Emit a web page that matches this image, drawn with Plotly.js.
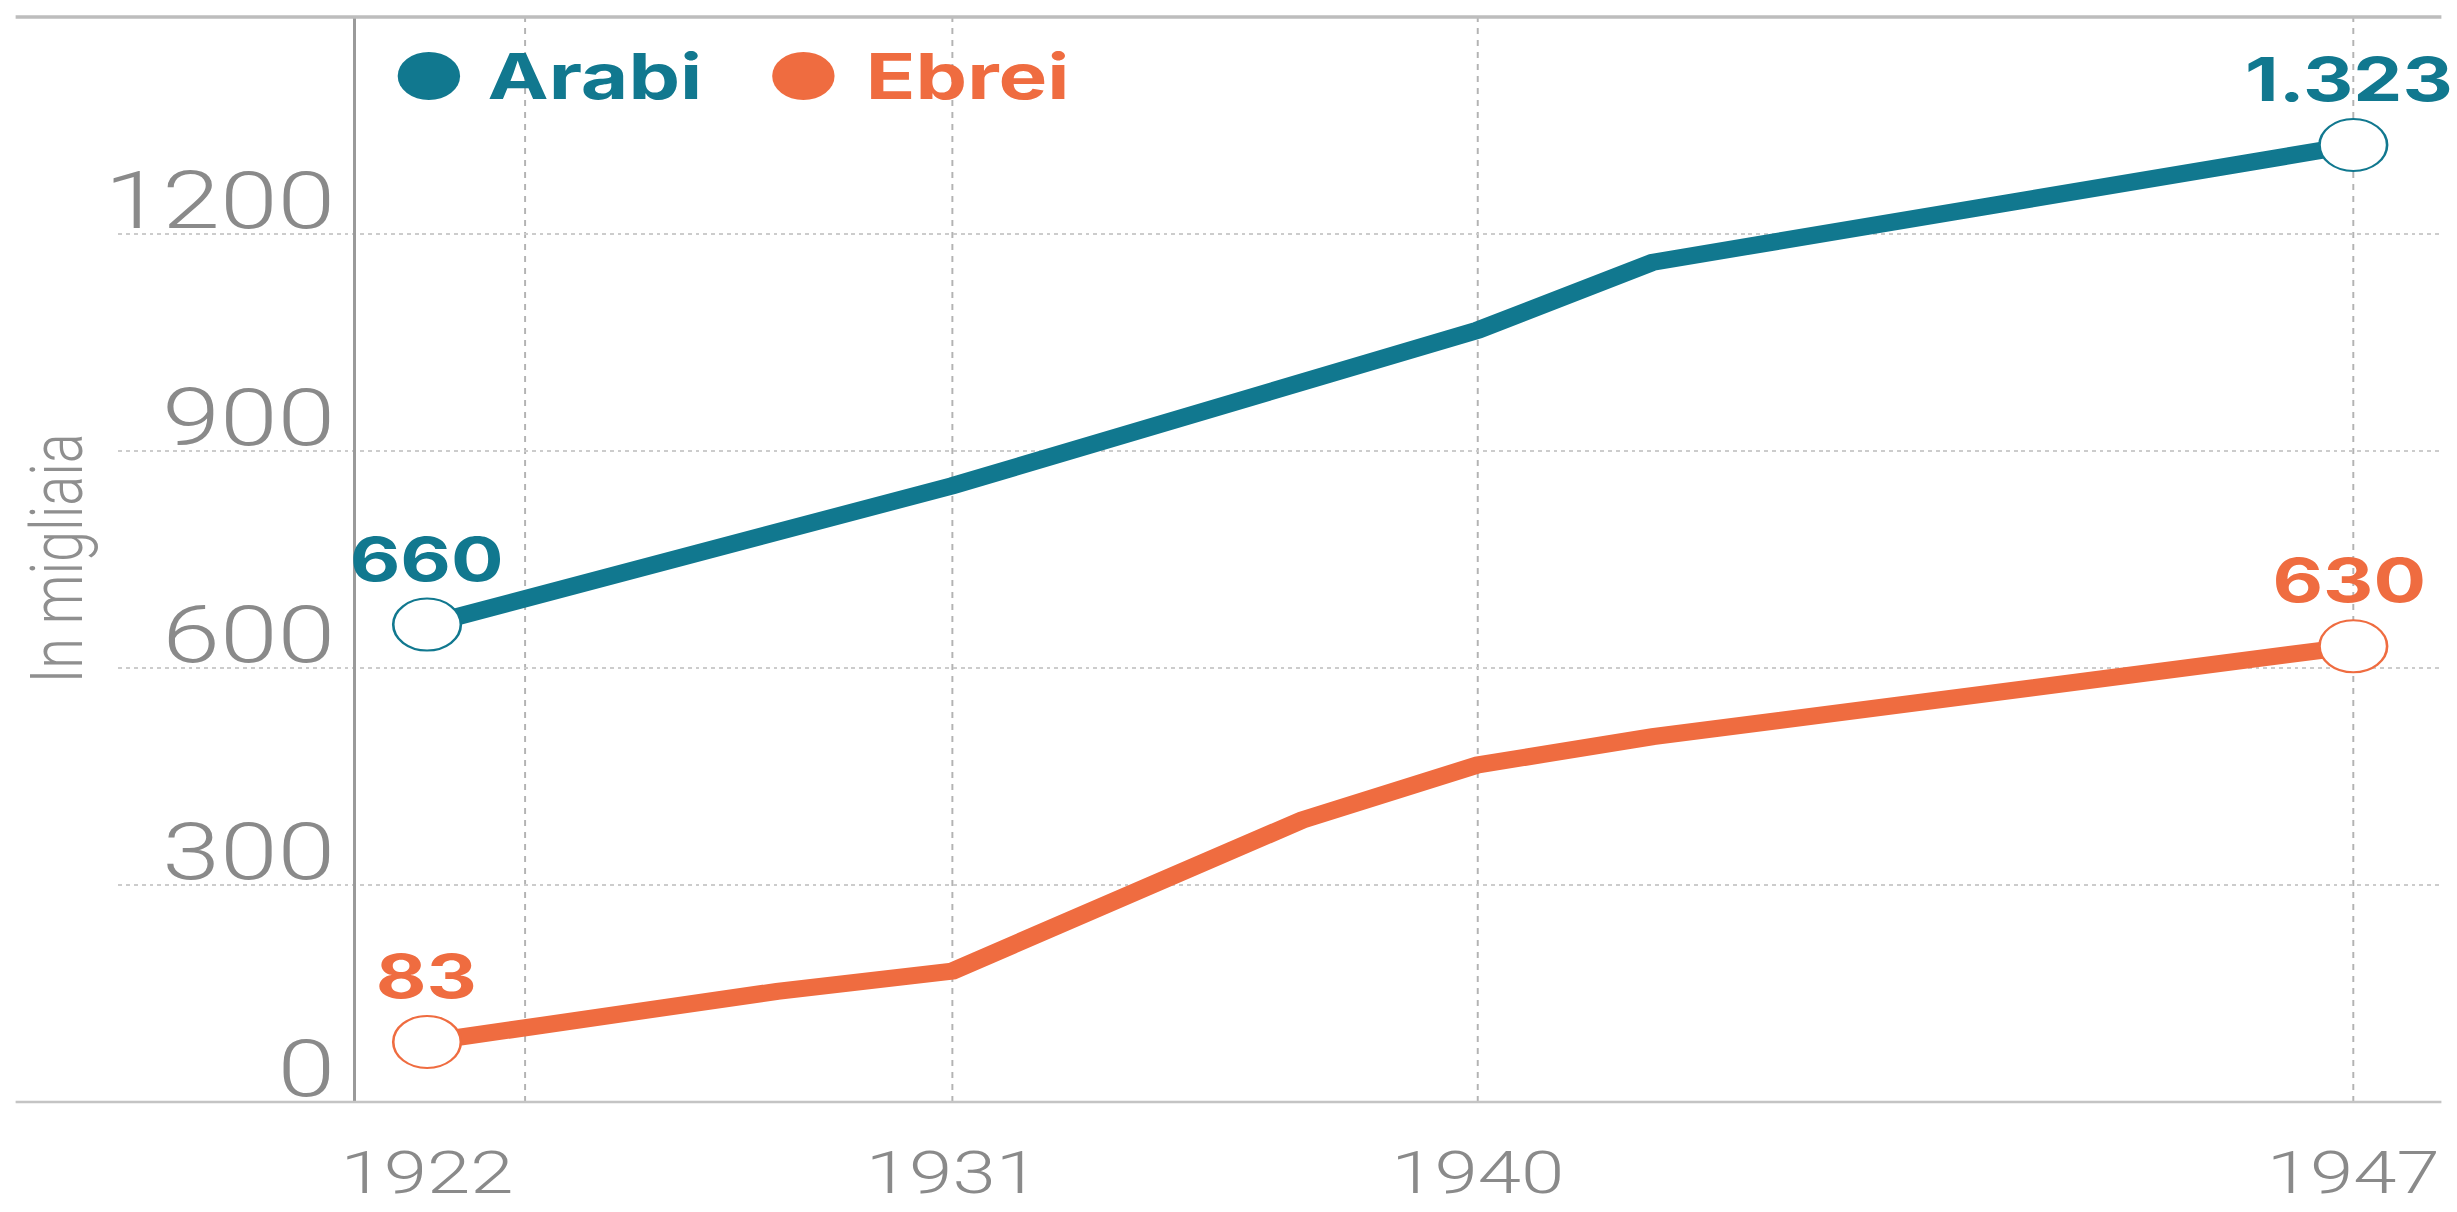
<!DOCTYPE html>
<html>
<head>
<meta charset="utf-8">
<script src="https://cdn.plot.ly/plotly-3.0.1.min.js"></script>
<style>
html,body{margin:0;padding:0;overflow:hidden;background:#fff;}
#chart{width:1890px;height:1212px;transform:scaleX(1.3);transform-origin:0 0;}
</style>
</head>
<body>
<div id="chart"></div>
<script>
// Category slots of the x axis (the original chart spaces them evenly)
const years = ['1922','1925','1928','1931','1934','1937','1940','1941','1943','1944','1946','1947'];
const tickYears = ['1922','1931','1940','1947'];

// Arabi (thousands)
const arabiX = ['1922','1928','1931','1940','1941','1947'];
const arabiY = [660, 787, 852, 1067, 1161, 1323];

// Ebrei (thousands)
const ebreiX = ['1922','1925','1928','1931','1937','1940','1941','1947'];
const ebreiY = [83, 120, 153, 181, 390, 466, 505, 630];

const yTicks = [0, 300, 600, 900, 1200];

const TEAL = '#11788f';
const ORANGE = '#ef6c40';

// numeric-looking category names must be addressed by their slot index
const idx = y => years.indexOf(y);

function fmt(v){
  return v >= 1000 ? Math.floor(v/1000) + '.' + String(v % 1000).padStart(3,'0') : String(v);
}
function ends(a){ return [a[0], a[a.length-1]]; }

const series = [
  {name:'Arabi', x:arabiX, y:arabiY, color:TEAL},
  {name:'Ebrei', x:ebreiX, y:ebreiY, color:ORANGE}
];

const traces = [];
series.forEach(s => {
  traces.push({
    type:'scatter', mode:'lines', x:s.x, y:s.y, name:s.name,
    line:{color:s.color, width:17}, hoverinfo:'skip', cliponaxis:false
  });
});
series.forEach(s => {
  traces.push({
    type:'scatter', mode:'markers', x:ends(s.x), y:ends(s.y), name:s.name,
    marker:{symbol:'circle', size:52, color:'#ffffff', line:{color:s.color, width:2}},
    hoverinfo:'skip', cliponaxis:false
  });
});

const annotations = [];
series.forEach(s => {
  ends(s.x).forEach((xv, i) => {
    const yv = ends(s.y)[i];
    annotations.push({
      x:idx(xv), y:yv, xref:'x', yref:'y', text:fmt(yv), showarrow:false,
      yshift:66, xshift:(i === 1 ? -3 : 0), xanchor:'center', yanchor:'middle',
      font:{family:'Inter', weight:700, size:60, color:s.color}
    });
  });
});

// legend (custom, as in the original)
const legendPos = [
  {cx:0.1337, tx:0.1578},
  {cx:0.2949, tx:0.3206}
];
const shapes = [];
series.forEach((s, i) => {
  shapes.push({
    type:'circle', xref:'paper', yref:'paper', xsizemode:'pixel', ysizemode:'pixel',
    xanchor:legendPos[i].cx, yanchor:0.9456, x0:-24, x1:24, y0:-24, y1:24,
    fillcolor:s.color, line:{width:0}
  });
  annotations.push({
    xref:'paper', yref:'paper', x:legendPos[i].tx, y:0.9456, xanchor:'left', yanchor:'middle',
    text:s.name, showarrow:false, font:{family:'Inter', weight:700, size:63, color:s.color}
  });
});

// y axis title
annotations.push({
  xref:'paper', yref:'paper', x:-0.0262, y:0.501, textangle:-90, xanchor:'center', yanchor:'middle',
  text:'In migliaia', showarrow:false, font:{family:'Roboto', weight:300, size:56, color:'#8f8f8f'}
});

// vertical grid lines
[0.56].concat(tickYears.slice(1).map(idx)).forEach(xv => {
  shapes.push({
    type:'line', xref:'x', yref:'paper', x0:xv, x1:xv, y0:0, y1:1, layer:'below',
    line:{color:'#b3b3b3', width:1.5, dash:'6px,6px'}
  });
});
// top and bottom rules
shapes.push({type:'line', xref:'paper', yref:'paper', x0:-0.0442, x1:1, y0:1, y1:1,
  line:{color:'#bdbdbd', width:3.5}});
shapes.push({type:'line', xref:'paper', yref:'paper', x0:-0.0442, x1:1, y0:0, y1:0,
  line:{color:'#c4c4c4', width:2.5}});

const layout = {
  width:1890, height:1212,
  margin:{l:91, r:12, t:17, b:110},
  paper_bgcolor:'#ffffff', plot_bgcolor:'#ffffff',
  showlegend:false,
  font:{family:'Roboto', color:'#8a8a8a'},
  xaxis:{
    type:'category', categoryorder:'array', categoryarray:years,
    range:[-1.763, 11.503], tickmode:'array', tickvals:tickYears.map(idx), ticktext:tickYears,
    showgrid:false, zeroline:false, showline:false, ticks:'',
    tickfont:{family:'Roboto', weight:300, size:60, color:'#8a8a8a'},
    ticklabelstandoff:30, fixedrange:true
  },
  yaxis:{
    range:[0, 1500], tickmode:'array', tickvals:yTicks,
    showgrid:true, gridcolor:'#cccccc', gridwidth:2, griddash:'dot',
    zeroline:false, showline:true, linecolor:'#9a9a9a', linewidth:2,
    anchor:'free', position:0.1018, ticks:'',
    tickfont:{family:'Roboto', weight:300, size:80, color:'#8a8a8a'},
    ticklabelshift:-34, ticklabelstandoff:-2, fixedrange:true
  },
  shapes:shapes,
  annotations:annotations
};

Plotly.newPlot('chart', traces, layout, {displayModeBar:false, staticPlot:true});
</script>
</body>
</html>
